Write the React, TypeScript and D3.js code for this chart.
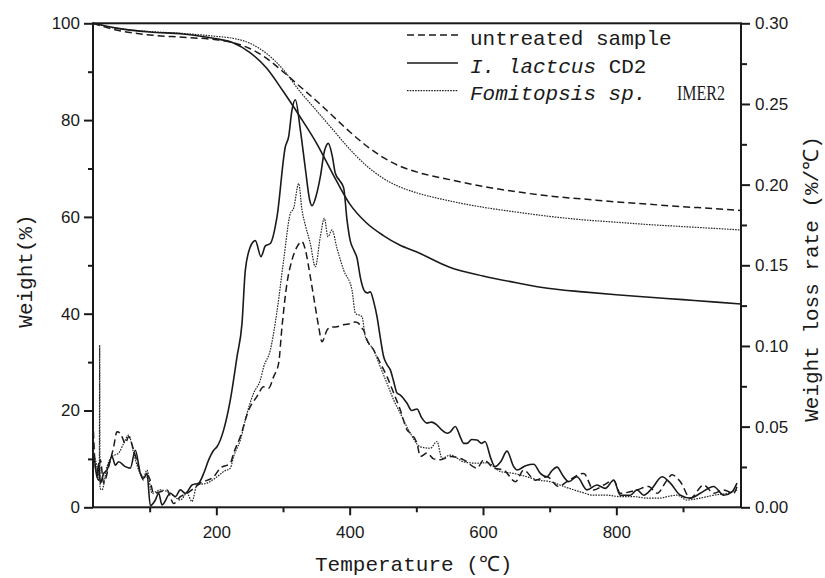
import { useEffect, useRef } from 'react';
import * as d3 from 'd3';

// ---------- data ----------
// TG curves (weight %, left axis), read on a common temperature grid
const tgTemps = [15, 50, 100, 150, 200, 225, 250, 275, 300, 325, 350, 375, 400, 425, 450, 475, 500, 550, 600, 650, 700, 750, 800, 850, 900, 950, 987];
const tgUntreated = [100, 98.6, 97.6, 97.1, 96.6, 96.0, 94.8, 92.8, 90.0, 87.0, 84.0, 80.8, 77.6, 74.7, 72.3, 70.5, 69.3, 67.7, 66.3, 65.2, 64.3, 63.7, 63.1, 62.6, 62.1, 61.7, 61.3];
const tgCD2 = [100, 99.0, 98.2, 97.8, 96.8, 96.0, 94.0, 90.8, 86.0, 80.8, 75.3, 68.8, 62.7, 58.8, 56.2, 54.2, 52.8, 49.6, 47.8, 46.4, 45.2, 44.5, 43.9, 43.4, 42.9, 42.4, 42.0];
const tgIMER2 = [100, 99.0, 98.3, 97.9, 97.3, 96.9, 95.9, 93.8, 90.5, 86.0, 82.0, 78.0, 74.0, 70.6, 68.0, 66.2, 65.0, 63.3, 62.0, 61.0, 60.1, 59.4, 58.9, 58.4, 58.0, 57.6, 57.3];

// DTG curves (weight loss rate %/°C, right axis) as [temperature, rate]
const dtgUntreated: [number, number][] = [
  [15, .054], [18.5, .0252], [23.5, .0168], [26, .0294], [31, .015], [38.5, .0252], [46, .0375], [51, .0468],
  [56, .0459], [63.5, .0396], [68.5, .0438], [76, .0354], [83.5, .0252], [91, .0168], [98.5, .0189], [106, .0087],
  [116, .0096], [126, .0108], [136, .0024], [146, .0066], [156, .0087], [166, .0117], [176, .015], [196, .0189],
  [206, .0243], [221, .0273], [226, .0336], [236, .0438], [248.5, .0603], [261, .0687], [271, .0747], [278.5, .0738],
  [286, .081], [293.5, .0894], [298.5, .1119], [306, .1389], [313.5, .1533], [321, .1614], [328.5, .1647], [333.5, .1596],
  [341, .1428], [348.5, .1242], [353.5, .1119], [358.5, .1026], [366, .1098], [371, .1116], [381, .1119], [391, .1131],
  [402, .114], [408.5, .1149], [413.5, .114], [416, .1119], [421, .1098], [426, .1038], [436, .0975], [446, .0894],
  [456, .081], [466, .0708], [476, .0603], [486, .048], [491, .0459], [501, .0396], [506, .0315], [516, .0336],
  [526, .03], [536, .0294], [551, .0315], [571, .0294], [591, .0243], [601, .0294], [616, .0243], [631, .0231],
  [648.5, .0159], [661, .0231], [678.5, .0168], [696, .0189], [713.5, .0129], [726, .0159], [751, .021], [766, .0108],
  [781, .0138], [796, .0168], [806, .0087], [831, .0108], [848.5, .0129], [861, .0087], [876, .0168], [883.5, .0201],
  [896, .0159], [911, .0057], [931, .0138], [946, .0087], [961, .0108], [976, .0087], [981, .0129],
];
const dtgCD2: [number, number][] = [
  [15, .030], [17, .0294], [21, .0189], [23.5, .0273], [26, .015], [31, .021], [36, .0231], [43.5, .0315],
  [48.5, .0261], [53.5, .0282], [63.5, .0252], [71, .0243], [78.5, .0354], [86, .021], [91, .018], [96, .021],
  [101, .001], [108.5, .0045], [113.5, .0087], [118.5, .0015], [131, .0087], [138.5, .0066], [146, .0108], [153.5, .0087],
  [163.5, .0138], [173.5, .015], [181, .021], [188.5, .0294], [196, .0354], [201, .0375], [211, .048], [221, .0666],
  [231, .0933], [238.5, .114], [243.5, .147], [251, .1614], [258.5, .1653], [267, .1554], [273.5, .162], [281, .1635],
  [291, .18], [303.5, .2235], [308.5, .2298], [313.5, .2463], [318.5, .2526], [326, .234], [333.5, .21], [340, .1905],
  [343.5, .1869], [350, .1935], [356, .2049], [362, .2205], [368, .2256], [374, .2175], [378.5, .207], [385, .2025],
  [391, .198], [396, .1782], [401, .165], [406, .1596], [411, .1545], [416, .1425], [421, .135], [426, .1329],
  [431, .1335], [436, .1275], [441, .1182], [446, .105], [451, .0933], [456, .0885], [461, .0852], [466, .078],
  [471, .0708], [476, .0696], [486, .0645], [493, .06], [501, .0609], [508, .0555], [516, .0522], [523, .0528],
  [531, .051], [538, .048], [546, .0459], [551, .0468], [558.5, .0501], [566, .0435], [571, .0396], [576, .0396],
  [583, .042], [591, .0417], [598, .0396], [603, .0408], [612, .03], [618, .0252], [627, .0285], [636, .0348],
  [646, .0252], [651, .0231], [664, .0258], [676, .0267], [686, .021], [696, .0189], [703, .0225], [711, .0249],
  [720, .0195], [728.5, .0159], [741, .0189], [756, .0108], [771, .0138], [783.5, .0117], [796, .0168], [806, .0075],
  [821, .0075], [831, .0108], [841, .0075], [853.5, .0117], [868.5, .0189], [881, .015], [896, .0075], [911, .0057],
  [926, .0087], [946, .0129], [961, .0075], [973.5, .0096], [981, .015],
];
const dtgIMER2: [number, number][] = [
  [15, .0354], [21, .0252], [24.5, .018], [25, .1005], [25.5, .012], [28.5, .0108], [36, .0252], [43.5, .0315],
  [53.5, .0336], [61, .0396], [68.5, .0447], [76, .0336], [83.5, .0231], [91, .0189], [96, .0231], [103.5, .0087],
  [116, .0108], [131, .0087], [146, .0045], [156, .0087], [163.5, .0036], [171, .0138], [186, .015], [201, .0189],
  [211, .0222], [221, .0243], [226, .0315], [236, .0417], [246, .0582], [256, .0708], [266, .0789], [271, .087],
  [281, .0975], [291, .1215], [301, .1533], [311, .1821], [316, .1854], [323.5, .2007], [328.5, .1842], [333.5, .1749],
  [341, .1635], [348.5, .1491], [356, .1677], [362, .1791], [367.5, .1677], [373.5, .1719], [381, .1605], [391, .147],
  [403.5, .1347], [408.5, .1203], [418.5, .1182], [423.5, .1056], [436, .0975], [446, .087], [456, .0768], [466, .0666],
  [476, .0582], [491, .0459], [506, .0375], [521, .0366], [531, .0408], [538.5, .0303], [551, .0324], [571, .0282],
  [591, .0273], [606, .0276], [626, .0222], [646, .021], [666, .0189], [683.5, .0168], [701, .0159], [721, .0129],
  [746, .0096], [766, .0075], [786, .0075], [806, .0066], [826, .0066], [846, .0057], [866, .0057], [876, .0066],
  [891, .0075], [906, .0045], [926, .0057], [946, .0075], [966, .0087], [981, .0108],
];

const xMajorTicks = [200, 400, 600, 800];
const xMinorTicks = [100, 300, 500, 700, 900];
const yLeftMajor = [0, 20, 40, 60, 80, 100];
const yLeftMinor = [10, 30, 50, 70, 90];
const yRightMajor = [0, 0.05, 0.10, 0.15, 0.20, 0.25, 0.30];
const yRightMinor = [0.025, 0.075, 0.125, 0.175, 0.225, 0.275];

const MONO = "'Liberation Mono', 'DejaVu Sans Mono', monospace";
const SERIF = "'Liberation Serif', 'DejaVu Serif', serif";
const SANS = "'Liberation Sans', Arial, sans-serif";
const INK = '#1a1a1a';

const App = () => {
  const svgRef = useRef<SVGSVGElement>(null);

  useEffect(() => {
    const svg = d3.select(svgRef.current);
    svg.selectAll('*').remove();

    const width = 825;
    const height = 578;
    const margin = { top: 23.3, right: 84, bottom: 70.7, left: 93 };
    const plotRight = width - margin.right;
    const plotBottom = height - margin.bottom;

    svg.attr('width', width).attr('height', height);
    svg.append('rect').attr('width', width).attr('height', height).attr('fill', '#fff');

    // scales
    const x = d3.scaleLinear().domain([15, 987]).range([margin.left, plotRight]);
    const yL = d3.scaleLinear().domain([0, 100]).range([plotBottom, margin.top]);
    const yR = d3.scaleLinear().domain([0, 0.3]).range([plotBottom, margin.top]);

    // axes
    const styleAxis = (g: any) => {
      g.select('.domain').remove();
      g.attr('font-family', SANS).attr('font-size', 17).attr('color', INK);
      g.selectAll('line').attr('stroke-width', 2);
    };

    svg.append('g').attr('transform', `translate(0,${plotBottom})`)
      .call(d3.axisBottom(x).tickValues(xMajorTicks).tickSize(8).tickPadding(11).tickFormat(d3.format('d')))
      .call(styleAxis);
    svg.append('g').attr('transform', `translate(0,${plotBottom})`)
      .call(d3.axisBottom(x).tickValues(xMinorTicks).tickSize(5).tickFormat(() => ''))
      .call(styleAxis);

    svg.append('g').attr('transform', `translate(${margin.left},0)`)
      .call(d3.axisLeft(yL).tickValues(yLeftMajor).tickSize(9).tickPadding(4).tickFormat(d3.format('d')))
      .call(styleAxis);
    svg.append('g').attr('transform', `translate(${margin.left},0)`)
      .call(d3.axisLeft(yL).tickValues(yLeftMinor).tickSize(5).tickFormat(() => ''))
      .call(styleAxis);

    svg.append('g').attr('transform', `translate(${plotRight},0)`)
      .call(d3.axisRight(yR).tickValues(yRightMajor).tickSize(9).tickPadding(5).tickFormat(d3.format('.2f')))
      .call(styleAxis);
    svg.append('g').attr('transform', `translate(${plotRight},0)`)
      .call(d3.axisRight(yR).tickValues(yRightMinor).tickSize(6).tickFormat(() => ''))
      .call(styleAxis);

    // frame
    svg.append('rect')
      .attr('x', margin.left).attr('y', margin.top)
      .attr('width', plotRight - margin.left).attr('height', plotBottom - margin.top)
      .attr('fill', 'none').attr('stroke', INK).attr('stroke-width', 2);

    // line styles
    const styles = {
      untreated: { dash: '7,4', width: 1.5, color: INK },
      cd2: { dash: null, width: 1.6, color: INK },
      imer2: { dash: '1.6,1.1', width: 1.2, color: '#262626' },
    };

    const plot = svg.append('g');
    const tgLine = d3.line<number>()
      .x((_, i) => x(tgTemps[i]))
      .y(d => yL(d))
      .curve(d3.curveMonotoneX);
    const dtgLine = d3.line<[number, number]>()
      .x(d => x(d[0]))
      .y(d => yR(d[1]))
      .curve(d3.curveMonotoneX);

    const draw = (d: string | null, s: { dash: string | null; width: number; color: string }) => {
      plot.append('path')
        .attr('d', d)
        .attr('fill', 'none')
        .attr('stroke', s.color)
        .attr('stroke-width', s.width)
        .attr('stroke-dasharray', s.dash)
        .attr('stroke-linejoin', 'round');
    };

    draw(tgLine(tgUntreated), styles.untreated);
    draw(tgLine(tgIMER2), styles.imer2);
    draw(tgLine(tgCD2), styles.cd2);
    draw(dtgLine(dtgUntreated), styles.untreated);
    draw(dtgLine(dtgIMER2), styles.imer2);
    draw(dtgLine(dtgCD2), styles.cd2);

    // legend
    const legend = svg.append('g').attr('font-family', MONO).attr('font-size', 21).attr('fill', INK);
    const rows = [
      { y: 35, s: styles.untreated },
      { y: 63, s: styles.cd2 },
      { y: 90.7, s: styles.imer2 },
    ];
    rows.forEach(r => {
      legend.append('line')
        .attr('x1', 407).attr('x2', 458).attr('y1', r.y).attr('y2', r.y)
        .attr('stroke', r.s.color).attr('stroke-width', r.s.width)
        .attr('stroke-dasharray', r.s.dash);
    });
    legend.append('text').attr('x', 470).attr('y', 45).text('untreated sample');
    const t2 = legend.append('text').attr('x', 470).attr('y', 72.5);
    t2.append('tspan').attr('font-style', 'italic').text('I. lactcus');
    t2.append('tspan').text(' CD2');
    const t3 = legend.append('text').attr('x', 470).attr('y', 100);
    t3.append('tspan').attr('font-style', 'italic').text('Fomitopsis sp.');
    t3.append('tspan').attr('x', 677).attr('font-family', SERIF)
      .attr('textLength', 48).attr('lengthAdjust', 'spacingAndGlyphs').text('IMER2');

    // axis titles
    svg.append('text')
      .attr('x', 315).attr('y', 571)
      .attr('font-family', MONO).attr('font-size', 21).attr('fill', INK)
      .text('Temperature (℃)');
    svg.append('text')
      .attr('transform', 'translate(32,271) rotate(-90)')
      .attr('text-anchor', 'middle')
      .attr('font-family', MONO).attr('font-size', 21).attr('fill', INK)
      .text('Weight(%)');
    svg.append('text')
      .attr('transform', 'translate(818,279) rotate(-90)')
      .attr('text-anchor', 'middle')
      .attr('font-family', MONO).attr('font-size', 21).attr('fill', INK)
      .text('Weight loss rate (%/℃)');
  }, []);

  return (
    <div style={{ position: 'absolute', left: 0, top: 0, width: 825, height: 578, overflow: 'hidden' }}>
      <svg ref={svgRef} style={{ display: 'block' }}></svg>
    </div>
  );
};

export default App;
